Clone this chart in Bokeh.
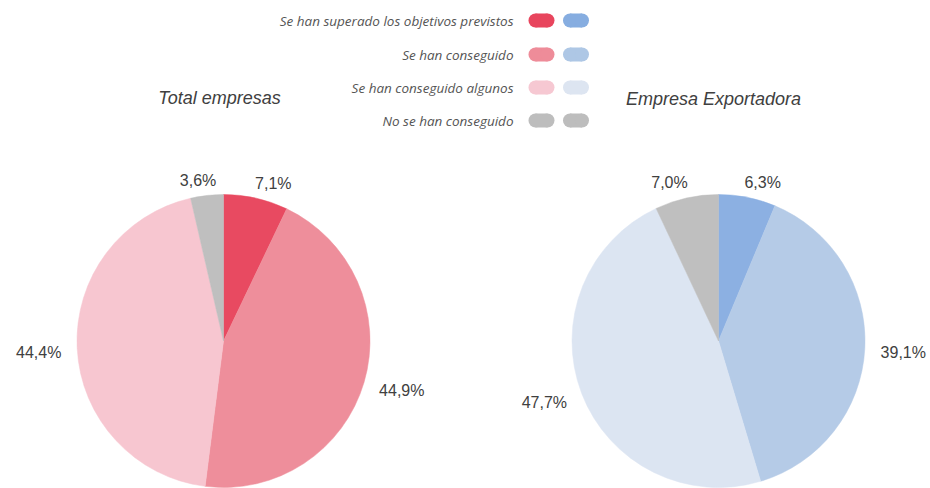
import math
from bokeh.plotting import figure
from bokeh.models import Range1d, ColumnDataSource
from bokeh.core.properties import value
from bokeh.embed import file_html
from bokeh.resources import INLINE

# ---- data ----
categories = ["Se han superado los objetivos previstos", "Se han conseguido",
              "Se han conseguido algunos", "No se han conseguido"]
total_values = [7.1, 44.9, 44.4, 3.6]
export_values = [6.3, 39.1, 47.7, 7.0]
chart_titles = ["Total empresas", "Empresa Exportadora"]
total_colors = ["#E84A61", "#EE8E9B", "#F7C6D0", "#BFBFBF"]
export_colors = ["#8CB0E2", "#B5CBE7", "#DCE5F2", "#BFBFBF"]
legend_total_colors = ["#E8455D", "#EE8C99", "#F6C8D2", "#BDBDBD"]
legend_export_colors = ["#86ADE0", "#AEC7E5", "#DDE5F1", "#BDBDBD"]

W, H = 930, 488
p = figure(width=W, height=H, output_backend="svg", toolbar_location=None,
           x_range=Range1d(0, W), y_range=Range1d(0, H), min_border=0)
p.axis.visible = False
p.grid.visible = False
p.outline_line_color = None
p.background_fill_color = "white"

R = 146.5
cy = 147.5
centers = [223, 718]
label_font = value("Liberation Sans")


def fmt(v):
    return ("%.1f%%" % v).replace(".", ",")


for cx, vals, cols in [(centers[0], total_values, total_colors),
                       (centers[1], export_values, export_colors)]:
    total = sum(vals)
    starts, ends, lx, ly, txt = [], [], [], [], []
    cum = 0.0
    for v in vals:
        a_end = math.pi / 2 - 2 * math.pi * cum / total
        a_start = math.pi / 2 - 2 * math.pi * (cum + v) / total
        mid = (a_start + a_end) / 2
        c, s = math.cos(mid), math.sin(mid)
        dx = 165 * c + 20 * math.copysign(min(1.0, abs(c) * 3), c)
        dy = 165 * s - 3
        starts.append(a_start)
        ends.append(a_end)
        lx.append(cx + dx)
        ly.append(cy + dy)
        txt.append(fmt(v))
        cum += v
    src = ColumnDataSource(dict(x=[cx] * len(vals), y=[cy] * len(vals),
                                s=starts, e=ends, c=cols))
    p.wedge(x="x", y="y", radius=R, start_angle="s", end_angle="e",
            direction="anticlock", fill_color="c", line_color="c",
            line_width=0.5, source=src)
    p.text(x=lx, y=ly, text=txt, text_align="center", text_baseline="middle",
           text_font=label_font, text_font_size="16px", text_color="#404040")

# titles
p.text(x=[219, 713], y=[391, 390], text=chart_titles, text_align="center",
       text_baseline="middle", text_font=label_font, text_font_style="italic",
       text_font_size="18px", text_color="#404040")

# legend
rows_y = [468, 434, 401, 368]
p.text(x=[513] * 4, y=rows_y, text=categories, text_align="right",
       text_baseline="middle", text_font=value("Open Sans"),
       text_font_style="italic", text_font_size="13.5px", text_color="#555555")
for sx, cols in [(541, legend_total_colors), (575.5, legend_export_colors)]:
    p.rect(x=[sx] * 4, y=rows_y, width=12, height=14, fill_color=cols,
           line_color=None)
    p.circle(x=[sx - 6] * 4, y=rows_y, radius=7, fill_color=cols, line_color=None)
    p.circle(x=[sx + 6] * 4, y=rows_y, radius=7, fill_color=cols, line_color=None)

open("out.html", "w").write(file_html(p, INLINE))
